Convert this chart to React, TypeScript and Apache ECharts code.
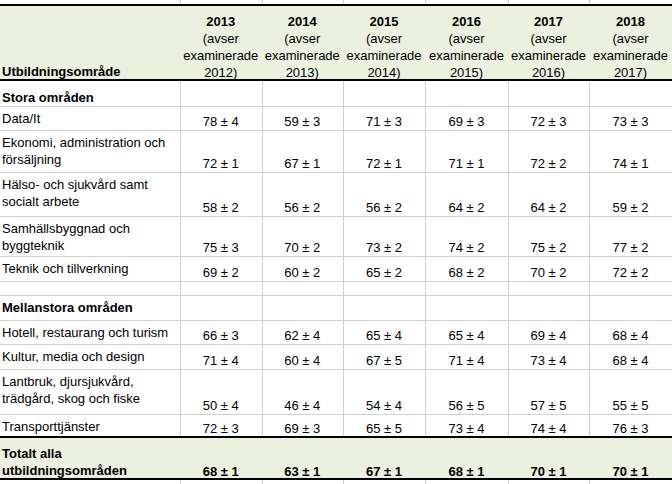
import React, { useEffect, useRef } from "react";
import * as echarts from "echarts";

// ---------- data ----------
const years = ["2013", "2014", "2015", "2016", "2017", "2018"];
const refYears = ["2012", "2013", "2014", "2015", "2016", "2017"];
const firstColTitle = "Utbildningsområde";
const groupTitles = ["Stora områden", "Mellanstora områden"];

const storaAreas = [
  ["Data/It"],
  ["Ekonomi, administration och", "försäljning"],
  ["Hälso- och sjukvård samt", "socialt arbete"],
  ["Samhällsbyggnad och", "byggteknik"],
  ["Teknik och tillverkning"],
];
const storaMeans = [
  [78, 59, 71, 69, 72, 73],
  [72, 67, 72, 71, 72, 74],
  [58, 56, 56, 64, 64, 59],
  [75, 70, 73, 74, 75, 77],
  [69, 60, 65, 68, 70, 72],
];
const storaMargins = [
  [4, 3, 3, 3, 3, 3],
  [1, 1, 1, 1, 2, 1],
  [2, 2, 2, 2, 2, 2],
  [3, 2, 2, 2, 2, 2],
  [2, 2, 2, 2, 2, 2],
];

const mellanAreas = [
  ["Hotell, restaurang och turism"],
  ["Kultur, media och design"],
  ["Lantbruk, djursjukvård,", "trädgård, skog och fiske"],
  ["Transporttjänster"],
];
const mellanMeans = [
  [66, 62, 65, 65, 69, 68],
  [71, 60, 67, 71, 73, 68],
  [50, 46, 54, 56, 57, 55],
  [72, 69, 65, 73, 74, 76],
];
const mellanMargins = [
  [3, 4, 4, 4, 4, 4],
  [4, 4, 5, 4, 4, 4],
  [4, 4, 4, 5, 5, 5],
  [3, 3, 5, 4, 4, 3],
];

const totalLabel = ["Totalt alla", "utbildningsområden"];
const totalMeans = [68, 63, 67, 68, 70, 70];
const totalMargins = [1, 1, 1, 1, 1, 1];

// ---------- layout ----------
const W = 672;
const H = 484;
const colEdges = [0, 180, 261.5, 343, 425, 508, 589, 672];
const headerTop = 5;
const headerBottom = 80;
const storaGroupBottom = 106;
const storaBottoms = [130, 172, 216, 256, 281];
const spacerBottom = 295;
const mellanGroupBottom = 320;
const mellanBottoms = [344, 369, 414, 437];
const totalBottom = 479;
const groupTextY = [97.5, 307.5];
const lineStep = 17.3;
const headerStep = 16.7;

const FONT = '"Liberation Sans", Arial, Helvetica, sans-serif';
const GRID = "#d0d0d0";
const BAND = "#ebf1de";

function txt(text: string, x: number, y: number, align: string, bold = false) {
  return {
    type: "text",
    x,
    y,
    z: 10,
    silent: true,
    style: {
      text,
      fill: "#000",
      fontSize: 13,
      fontFamily: FONT,
      fontWeight: bold ? "bold" : "normal",
      textAlign: align,
      textVerticalAlign: "middle",
      align,
      verticalAlign: "middle",
    },
  };
}

function hline(y: number, color: string, width: number, z: number) {
  return {
    type: "line",
    z,
    silent: true,
    shape: { x1: 0, y1: y, x2: W, y2: y },
    style: { stroke: color, lineWidth: width },
  };
}

function colCenter(i: number) {
  return (colEdges[i + 1] + colEdges[i + 2]) / 2;
}

function buildGraphics() {
  const els: any[] = [];
  // vertical grid lines
  for (let i = 1; i < colEdges.length - 1; i++) {
    const x = Math.round(colEdges[i]) + 0.5;
    els.push({
      type: "line",
      z: 1,
      silent: true,
      shape: { x1: x, y1: 0, x2: x, y2: H },
      style: { stroke: GRID, lineWidth: 1 },
    });
  }
  // horizontal grid lines
  const grayYs = [storaGroupBottom, ...storaBottoms, spacerBottom, mellanGroupBottom, ...mellanBottoms.slice(0, -1)];
  grayYs.forEach((y) => els.push(hline(y + 0.5, GRID, 1, 1)));
  // bands
  els.push({
    type: "rect",
    z: 2,
    silent: true,
    shape: { x: 0, y: headerTop, width: W, height: headerBottom - headerTop },
    style: { fill: BAND },
  });
  const totalTop = mellanBottoms[mellanBottoms.length - 1];
  els.push({
    type: "rect",
    z: 2,
    silent: true,
    shape: { x: 0, y: totalTop, width: W, height: totalBottom - totalTop },
    style: { fill: BAND },
  });
  // black rules
  [headerTop, headerBottom, totalTop, totalBottom].forEach((y) => els.push(hline(y, "#000", 2, 3)));

  // header
  els.push(txt(firstColTitle, 2, headerBottom - 8.5, "left", true));
  years.forEach((yr, i) => {
    const cx = colCenter(i);
    const last = headerBottom - 8;
    els.push(txt(yr, cx, last - 3 * headerStep, "center", true));
    els.push(txt("(avser", cx, last - 2 * headerStep, "center"));
    els.push(txt("examinerade", cx, last - headerStep, "center"));
    els.push(txt(refYears[i] + ")", cx, last, "center"));
  });

  // group sections
  const sections = [
    { top: storaGroupBottom, areas: storaAreas, means: storaMeans, margins: storaMargins, bottoms: storaBottoms },
    { top: mellanGroupBottom, areas: mellanAreas, means: mellanMeans, margins: mellanMargins, bottoms: mellanBottoms },
  ];
  sections.forEach((sec, g) => {
    els.push(txt(groupTitles[g], 2, groupTextY[g], "left", true));
    let top = sec.top;
    sec.areas.forEach((lines, r) => {
      const bottom = sec.bottoms[r];
      lines.forEach((ln, k) => els.push(txt(ln, 2, top + 12.5 + k * lineStep, "left")));
      sec.means[r].forEach((m, c) => {
        els.push(txt(`${m} ± ${sec.margins[r][c]}`, colCenter(c), bottom - 8.3, "center"));
      });
      top = bottom;
    });
  });

  // total
  totalLabel.forEach((ln, k) =>
    els.push(txt(ln, 2, totalBottom - 8.5 - (totalLabel.length - 1 - k) * lineStep, "left", true))
  );
  totalMeans.forEach((m, c) =>
    els.push(txt(`${m} ± ${totalMargins[c]}`, colCenter(c), totalBottom - 8, "center", true))
  );
  return els;
}

export default function App() {
  const ref = useRef<HTMLDivElement>(null);
  useEffect(() => {
    if (!ref.current) return;
    const chart = echarts.init(ref.current, undefined, { renderer: "svg", width: W, height: H });
    chart.setOption({
      animation: false,
      backgroundColor: "#ffffff",
      graphic: { elements: buildGraphics() },
    });
    return () => chart.dispose();
  }, []);
  return (
    <div
      ref={ref}
      style={{ position: "fixed", left: 0, top: 0, width: W, height: H, background: "#fff" }}
    />
  );
}
